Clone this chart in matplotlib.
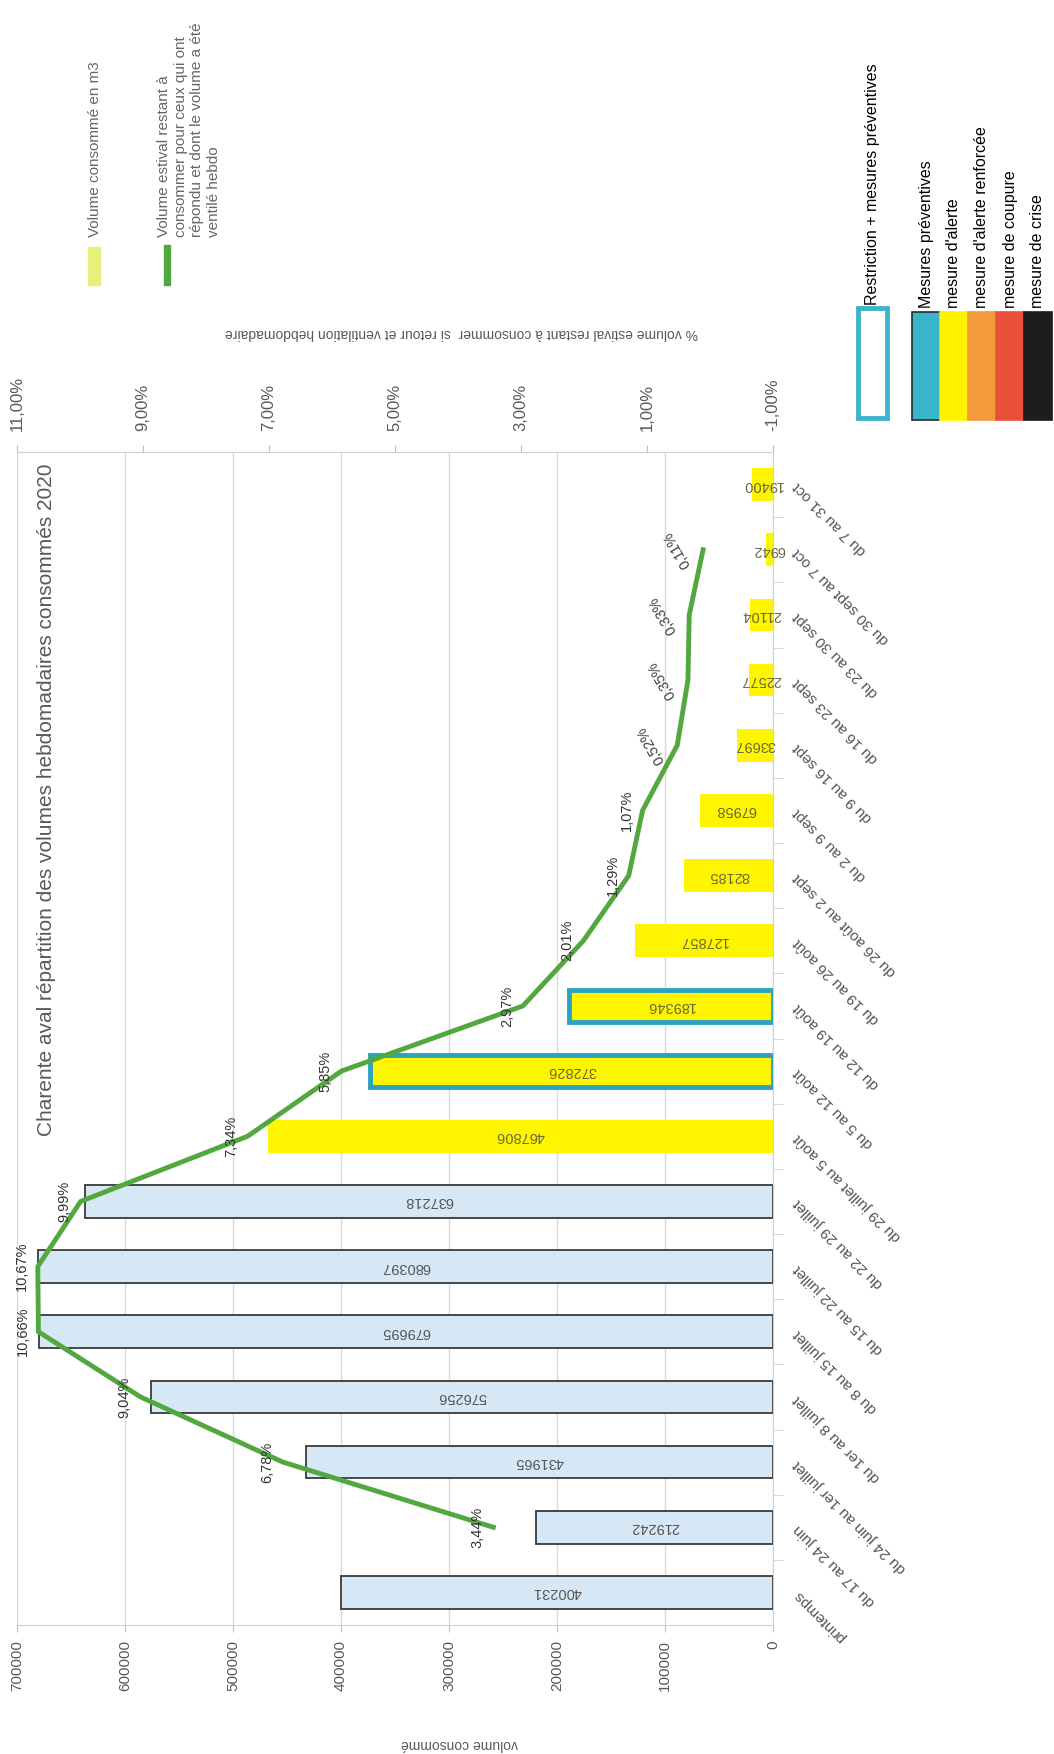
import matplotlib
matplotlib.use('Agg')
import matplotlib.pyplot as plt
import matplotlib.transforms as mtransforms
from matplotlib.patches import Rectangle
import numpy as np

plt.rcParams['font.family'] = ['Liberation Sans', 'DejaVu Sans']

# data read from the (rotated) scan
categories = ['printemps', 'du 17 au 24 juin', 'du 24 juin au 1er juillet',
              'du 1er au 8 juillet', 'du 8 au 15 juillet', 'du 15 au 22 juillet',
              'du 22 au 29 juillet', 'du 29 juillet au 5 août', 'du 5 au 12 août',
              'du 12 au 19 août', 'du 19 au 26 août', 'du 26 août au 2 sept',
              'du 2 au 9 sept', 'du 9 au 16 sept', 'du 16 au 23 sept',
              'du 23 au 30 sept', 'du 30 sept au 7 oct', 'du 7 au 31 oct']
volumes = [400231, 219242, 431965, 576256, 679695, 680397, 637218, 467806,
           372826, 189346, 127857, 82185, 67958, 33697, 22577, 21104, 6942, 19400]
pct_restant = [np.nan, 3.44, 6.78, 9.04, 10.66, 10.67, 9.99, 7.34, 5.85, 2.97,
               2.01, 1.29, 1.07, 0.52, 0.35, 0.33, 0.11, np.nan]
# measure type per week: 'avant' (before restrictions), 'alerte', 'alerte_prev'
mesures = ['avant'] * 7 + ['alerte', 'alerte_prev', 'alerte_prev'] + ['alerte'] * 8

vol_ticks = list(range(0, 700001, 100000))
pct_ticks = [-1, 1, 3, 5, 7, 9, 11]

W, H = 1054, 1754
def fx(px):
    return px / W
def fy(py):
    return 1 - py / H

fig = plt.figure(figsize=(W / 100, H / 100), dpi=100)
ax = fig.add_axes([fx(17), fy(1625), (773 - 17) / W, (1625 - 452) / H])

grey = '#595959'
ypos = np.arange(len(categories))
for i, (v, m) in enumerate(zip(volumes, mesures)):
    if m == 'avant':
        ax.barh(i, v, height=0.5, color='#d6e8f5', edgecolor='#3a3a3a', lw=1.3, zorder=2)
        tc = '#555555'
    elif m == 'alerte_prev':
        ax.barh(i, v, height=0.5, color='#fff500', edgecolor='#2ba3bf', lw=3.5, zorder=2)
        tc = '#6b6838'
    else:
        ax.barh(i, v, height=0.5, color='#fff500', lw=0, zorder=2)
        tc = '#6b6838'
    ax.text(v / 2, i, str(v), rotation=180, ha='center', va='center',
            fontsize=10.5, color=tc, zorder=4)

ax.set_xlim(700000, 0)
ax.set_ylim(-0.5, len(categories) - 0.5)
ax.set_xticks(vol_ticks)
ax.set_xticklabels([str(t) for t in vol_ticks], rotation=90, fontsize=11, color=grey)
ax.tick_params(axis='x', length=5, color='#bfbfbf', pad=6)
ax.grid(axis='x', color='#d9d9d9', lw=1)
ax.set_axisbelow(True)
ax.set_yticks([])
ax.set_yticks(ypos[:-1] + 0.5, minor=True)
ax.yaxis.tick_right()
ax.tick_params(axis='y', which='minor', length=7, color='#d0d0d0', labelright=False)
for s in ['left', 'top']:
    ax.spines[s].set_visible(False)
for s in ['bottom', 'right']:
    ax.spines[s].set_color('#d0d0d0')

# category labels on the right, slanted
trans = ax.get_yaxis_transform()
for i, c in enumerate(categories):
    ax.text(1.03, i, c, transform=trans, rotation=135, rotation_mode='anchor',
            ha='right', va='center', fontsize=11, color='#555555')

# secondary axis : % remaining volume
ax2 = ax.twiny()
ax2.set_xlim(11, -1)
ax2.plot(pct_restant, ypos, color='#52a83f', lw=3.5, zorder=5)
ax2.set_xticks(pct_ticks)
ax2.set_xticklabels([f'{t:.2f}%'.replace('.', ',') for t in pct_ticks],
                    rotation=90, fontsize=12, color=grey)
ax2.tick_params(axis='x', length=5, color='#bfbfbf', pad=10)
for s in ['left', 'bottom', 'right']:
    ax2.spines[s].set_visible(False)
ax2.spines['top'].set_color('#d0d0d0')

for i, p in enumerate(pct_restant):
    if np.isnan(p):
        continue
    lab = f'{p:.2f}%'.replace('.', ',')
    if p < 1:
        ax2.annotate(lab, (p, i), xytext=(-26, 0), textcoords='offset pixels',
                     rotation=120, ha='center', va='center', fontsize=10.5,
                     color='#404040', zorder=6)
    else:
        ax2.annotate(lab, (p, i), xytext=(-16, 0), textcoords='offset pixels',
                     rotation=90, ha='center', va='center', fontsize=10.5,
                     color='#333333', zorder=6)

# titles and axis labels (rotated like the scan)
fig.text(fx(47), fy(800), 'Charente aval répartition des volumes hebdomadaires consommés 2020',
         rotation=90, ha='center', va='center', fontsize=15, color=grey)
fig.text(fx(460), fy(1744), 'volume consommé', rotation=180, ha='center', va='center',
         fontsize=10, color=grey)
fig.text(fx(461), fy(333),
         '% volume estival restant à consommer  si retour et ventilation hebdomadaire',
         rotation=180, ha='center', va='center', fontsize=10, color=grey)

# series legend (top left)
fig.patches.append(Rectangle((fx(88), fy(285)), 12 / W, 38 / H, transform=fig.transFigure,
                             color='#e6f07a'))
fig.text(fx(95), fy(237), 'Volume consommé en m3', rotation=90, ha='center', va='bottom',
         fontsize=11, color='#666666')
fig.patches.append(Rectangle((fx(164), fy(285)), 6 / W, 40 / H, transform=fig.transFigure,
                             color='#52a83f'))
fig.text(fx(157), fy(237),
         'Volume estival restant à\nconsommer pour ceux qui ont\nrépondu et dont le volume a été\nventilé hebdo',
         rotation=90, ha='left', va='bottom', multialignment='left', linespacing=1.25,
         fontsize=11, color='#666666')

# measures legend (top right)
fig.patches.append(Rectangle((fx(858), fy(418)), 29 / W, 110 / H, transform=fig.transFigure,
                             facecolor='white', edgecolor='#3db4cc', lw=3.5))
fig.text(fx(872), fy(305), 'Restriction + mesures préventives', rotation=90,
         ha='center', va='bottom', fontsize=11.5, color='black')
leg_labels = ['Mesures préventives', "mesure d'alerte", "mesure d'alerte renforcée",
              'mesure de coupure', 'mesure de crise']
leg_colors = ['#3ab5c9', '#fff200', '#f39a3b', '#e8503a', '#1c1c1c']
x0 = 912
for lab, col in zip(leg_labels, leg_colors):
    ec = '#2a2a2a' if col == '#3ab5c9' else col
    fig.patches.append(Rectangle((fx(x0), fy(420)), 28 / W, 108 / H, transform=fig.transFigure,
                                 facecolor=col, edgecolor=ec, lw=1.2))
    fig.text(fx(x0 + 14), fy(308), lab, rotation=90, ha='center', va='bottom',
             fontsize=11.5, color='black')
    x0 += 28

fig.savefig('out.png', dpi=100)
